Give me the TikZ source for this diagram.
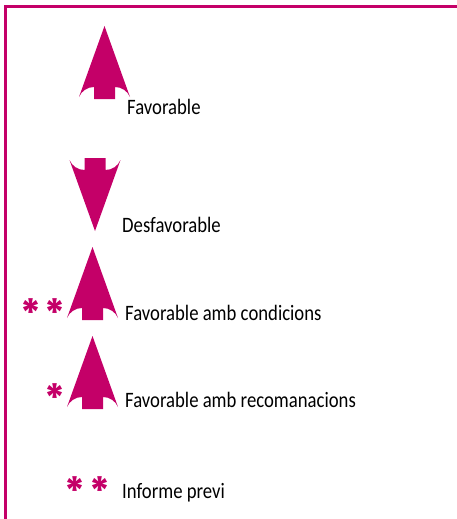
\documentclass[tikz,border=0pt]{standalone}
\usepackage{fontspec}
\setmainfont{Carlito}[FakeStretch=0.85]
\newfontfamily\starfont{Poppins}
\usepackage{tikz}

\definecolor{magenta}{RGB}{196,0,104}

\tikzset{
  legend/.style = {anchor=base west, inner sep=0pt, font=\fontsize{22}{24}\selectfont},
  star/.style = {anchor=base, inner sep=0pt, text=magenta, font=\starfont\bfseries\fontsize{39}{41}\selectfont},
  pics/uparr/.style = {code = {
    \fill[magenta] (0,0) -- (-25.5,71) .. controls (-23,65) and (-17,61) .. (-10.5,61)
      -- (-10.5,73) -- (10.5,73) -- (10.5,61) .. controls (17,61) and (23,65) .. (25.5,71) -- cycle;
  }}
}

\begin{document}
\begin{tikzpicture}[x=1pt, y=-1pt]
\useasboundingbox (0,0) rectangle (457,519);

% frame
\draw[magenta, line width=2.5pt] (5.5,519) -- (5.5,6.5) -- (457,6.5);

% arrows
\pic at (104.5,26) {uparr};
\pic[rotate=180] at (95,231) {uparr};
\pic at (92.5,247) {uparr};
\pic at (92.5,336) {uparr};

\node[legend] (fav) at (127,114) {Favorable};
\node[legend] (desfav) at (122,232) {Desfavorable};
\node[legend] (favcond) at (125,320) {Favorable amb condicions};
\node[legend] (favrec) at (125,407) {Favorable amb recomanacions};
\node[legend] (previ) at (122,498) {Informe previ};

\node[star] (cond star) at (43,327) {*\kern4pt*};
\node[star] (rec star) at (54.5,412) {*};
\node[star] (previ star) at (87.5,505) {*\kern4pt*};
\end{tikzpicture}
\end{document}
